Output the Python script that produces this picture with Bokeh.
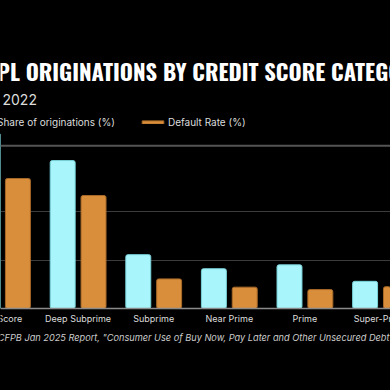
from bokeh.plotting import figure
from bokeh.models import (ColumnDataSource, Range1d, FixedTicker, Label, Span,
                          Legend, LegendItem)
from bokeh.transform import dodge
from bokeh.core.properties import value
from bokeh.embed import file_html
from bokeh.resources import INLINE

categories = ["No Score", "Deep Subprime", "Subprime", "Near Prime", "Prime", "Super-Prime"]
share_of_originations = [36.0, 30.5, 11.1, 8.2, 9.0, 5.6]
default_rate = [26.8, 23.3, 6.1, 4.4, 3.9, 4.5]
grid_ticks = [10, 20]

title_text = "BNPL ORIGINATIONS BY CREDIT SCORE CATEGORY"
subtitle_text = "2022"
source_text = 'Source: CFPB Jan 2025 Report, "Consumer Use of Buy Now, Pay Later and Other Unsecured Debt"'

CYAN = "#A8F6FC"
ORANGE = "#D98E3B"
BG = "#000000"
FONT = "Inter"

idx = list(range(len(categories)))
src = ColumnDataSource(dict(idx=idx, cat=categories, share=share_of_originations,
                            default=default_rate, base=[0] * len(categories)))

p = figure(width=390, height=390, output_backend="svg", toolbar_location=None,
           x_range=Range1d(-0.0265, 5.132), y_range=Range1d(-16.907, 63.505),
           x_axis_location=None, y_axis_location=None,
           background_fill_color=BG, border_fill_color=BG, outline_line_color=None,
           min_border_left=0, min_border_right=0, min_border_top=0, min_border_bottom=0)

r1 = p.vbar(x=dodge("idx", -0.204, range=p.x_range), top="share", width=0.33, source=src,
            fill_color=CYAN, line_color="#79d3da", line_width=1, border_radius=2)
r2 = p.vbar(x=dodge("idx", 0.204, range=p.x_range), top="default", width=0.33, source=src,
            fill_color=ORANGE, line_color="#a86a28", line_width=1, border_radius=2)

p.xgrid.visible = False
p.ygrid.ticker = FixedTicker(ticks=grid_ticks)
p.ygrid.grid_line_color = "#3c3c3c"
p.ygrid.grid_line_width = 1

# baseline and rule under the legend
p.add_layout(Span(location=0, dimension="width", line_color="#8a8a8a", line_width=1.5))
p.add_layout(Span(location=33.55, dimension="width", line_color="#555555", line_width=2))

# category labels
p.text(x="idx", y="base", text="cat", source=src, text_align="center",
       text_baseline="alphabetic", y_offset=10, text_font=value(FONT),
       text_font_size="9px", text_color="#dddddd")

legend = Legend(items=[LegendItem(label="Share of originations (%)", renderers=[r1]),
                       LegendItem(label="Default Rate (%)", renderers=[r2])],
                orientation="horizontal", location=(-32, 262),
                glyph_width=27, glyph_height=4, label_standoff=2, spacing=24,
                label_height=12, padding=0, margin=0,
                border_line_color=None, background_fill_alpha=0,
                label_text_font=FONT, label_text_font_size="10px", label_text_color="#dddddd")
p.add_layout(legend, "center")

title_font = "Oswald, 'Noto Sans ExtraCondensed', 'Noto Sans Condensed', 'DejaVu Sans Condensed', 'Liberation Sans Narrow', 'Roboto Condensed', sans-serif"
p.add_layout(Label(x=-29.3, y=319.5, x_units="screen", y_units="screen", text=title_text,
                   text_font=title_font, text_font_style="bold", text_font_size="22.5px",
                   text_color="#ffffff", text_baseline="alphabetic"))
p.add_layout(Label(x=2, y=291.4, x_units="screen", y_units="screen", text=subtitle_text,
                   text_font=FONT, text_font_size="14px",
                   text_color="#dddddd", text_baseline="alphabetic"))
p.add_layout(Label(x=-38.6, y=53.2, x_units="screen", y_units="screen", text=source_text,
                   text_font=FONT, text_font_style="italic", text_font_size="9.2px",
                   text_color="#cccccc", text_baseline="alphabetic"))

html = file_html(p, INLINE)
html = html.replace("</head>", "<style>html,body{background:#000000;}</style></head>", 1)
open("out.html", "w").write(html)
